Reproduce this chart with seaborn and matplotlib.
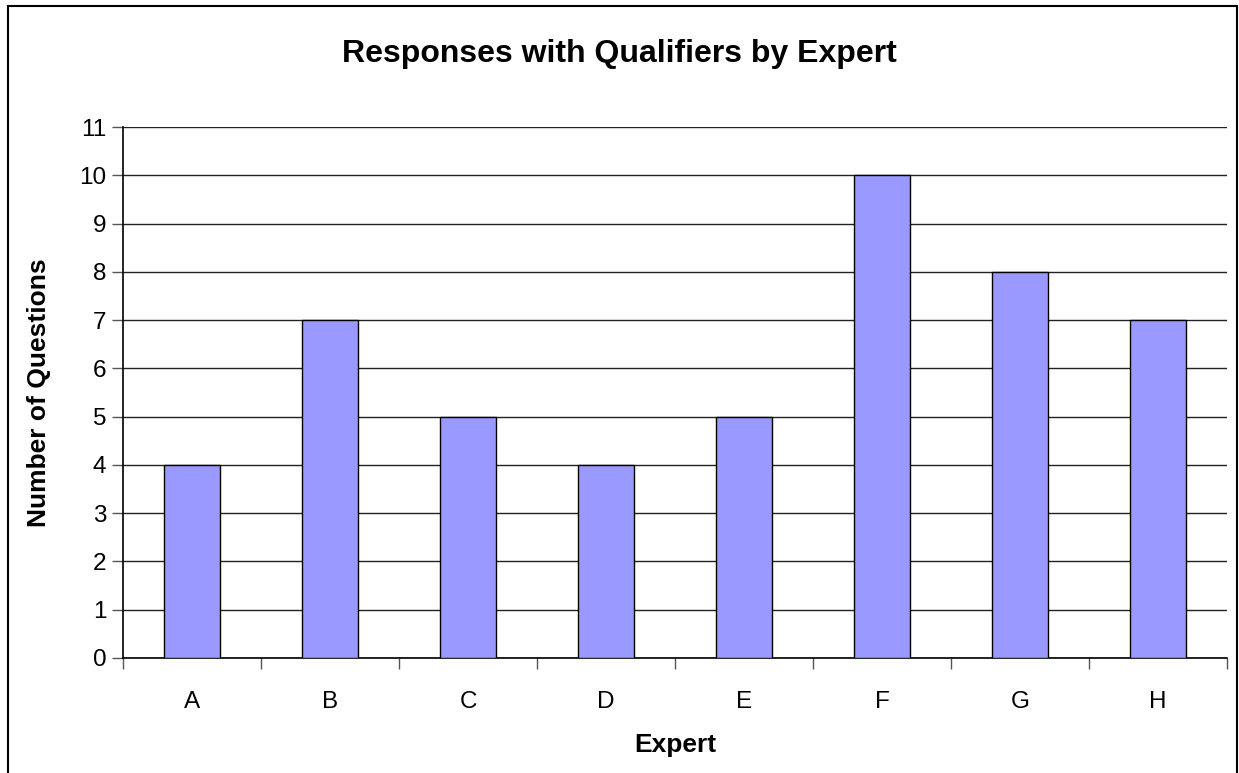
import matplotlib
matplotlib.use("Agg")
import matplotlib.pyplot as plt
import seaborn as sns
import pandas as pd
from matplotlib.patches import Rectangle

experts = ["A", "B", "C", "D", "E", "F", "G", "H"]
questions = [4, 7, 5, 4, 5, 10, 8, 7]
y_ticks = list(range(0, 12))

sns.set_theme(style="white")
plt.rcParams["font.family"] = ["Liberation Sans", "DejaVu Sans"]
plt.rcParams["text.color"] = "black"
plt.rcParams["axes.labelcolor"] = "black"
plt.rcParams["xtick.color"] = "black"
plt.rcParams["ytick.color"] = "black"

df = pd.DataFrame({"Expert": experts, "Questions": questions})

fig = plt.figure(figsize=(12.39, 7.73), dpi=100)
ax = fig.add_axes([0.0993, 0.1488, 0.891, 0.6869])

sns.barplot(data=df, x="Expert", y="Questions", color="#9999FF",
            saturation=1, width=0.41, edgecolor="black", linewidth=1.0,
            ax=ax, zorder=3)

ax.set_ylim(0, 11)
ax.set_xlim(-0.5, len(experts) - 0.5)
ax.set_yticks(y_ticks)
ax.set_yticklabels([str(t) for t in y_ticks], fontsize=17.5)
ax.yaxis.grid(True, color="#222222", linewidth=1.0, zorder=0)
ax.set_axisbelow(True)

# x ticks sit on category boundaries, labels centred under bars
ax.set_xticks([i + 0.5 for i in range(-1, len(experts))], minor=False)
ax.set_xticklabels([""] * (len(experts) + 1))
ax.set_xticks(range(len(experts)), minor=True)
ax.set_xticklabels(experts, minor=True, fontsize=17.5)
ax.tick_params(axis="x", which="major", direction="out", length=8,
               width=1, color="#555555", bottom=True)
ax.tick_params(axis="x", which="minor", length=0, pad=24, bottom=True)
ax.tick_params(axis="y", direction="out", length=8, width=1,
               color="#555555", left=True, pad=4)

for side in ["top", "right"]:
    ax.spines[side].set_visible(False)
for side in ["left", "bottom"]:
    ax.spines[side].set_color("black")
    ax.spines[side].set_linewidth(1.2)

ax.set_xlabel("Expert", fontsize=19, fontweight="bold", labelpad=14)
ax.set_ylabel("Number of Questions", fontsize=19, fontweight="bold",
              labelpad=20)
fig.suptitle("Responses with Qualifiers by Expert", fontsize=23,
             fontweight="bold", y=0.949)

# outer chart frame
fig.patches.append(Rectangle((8 / 1239, -0.05), 1229 / 1239, 0.05 + (773 - 6) / 773,
                             transform=fig.transFigure, fill=False,
                             edgecolor="black", linewidth=1.5))

fig.savefig("out.png", dpi=100)
